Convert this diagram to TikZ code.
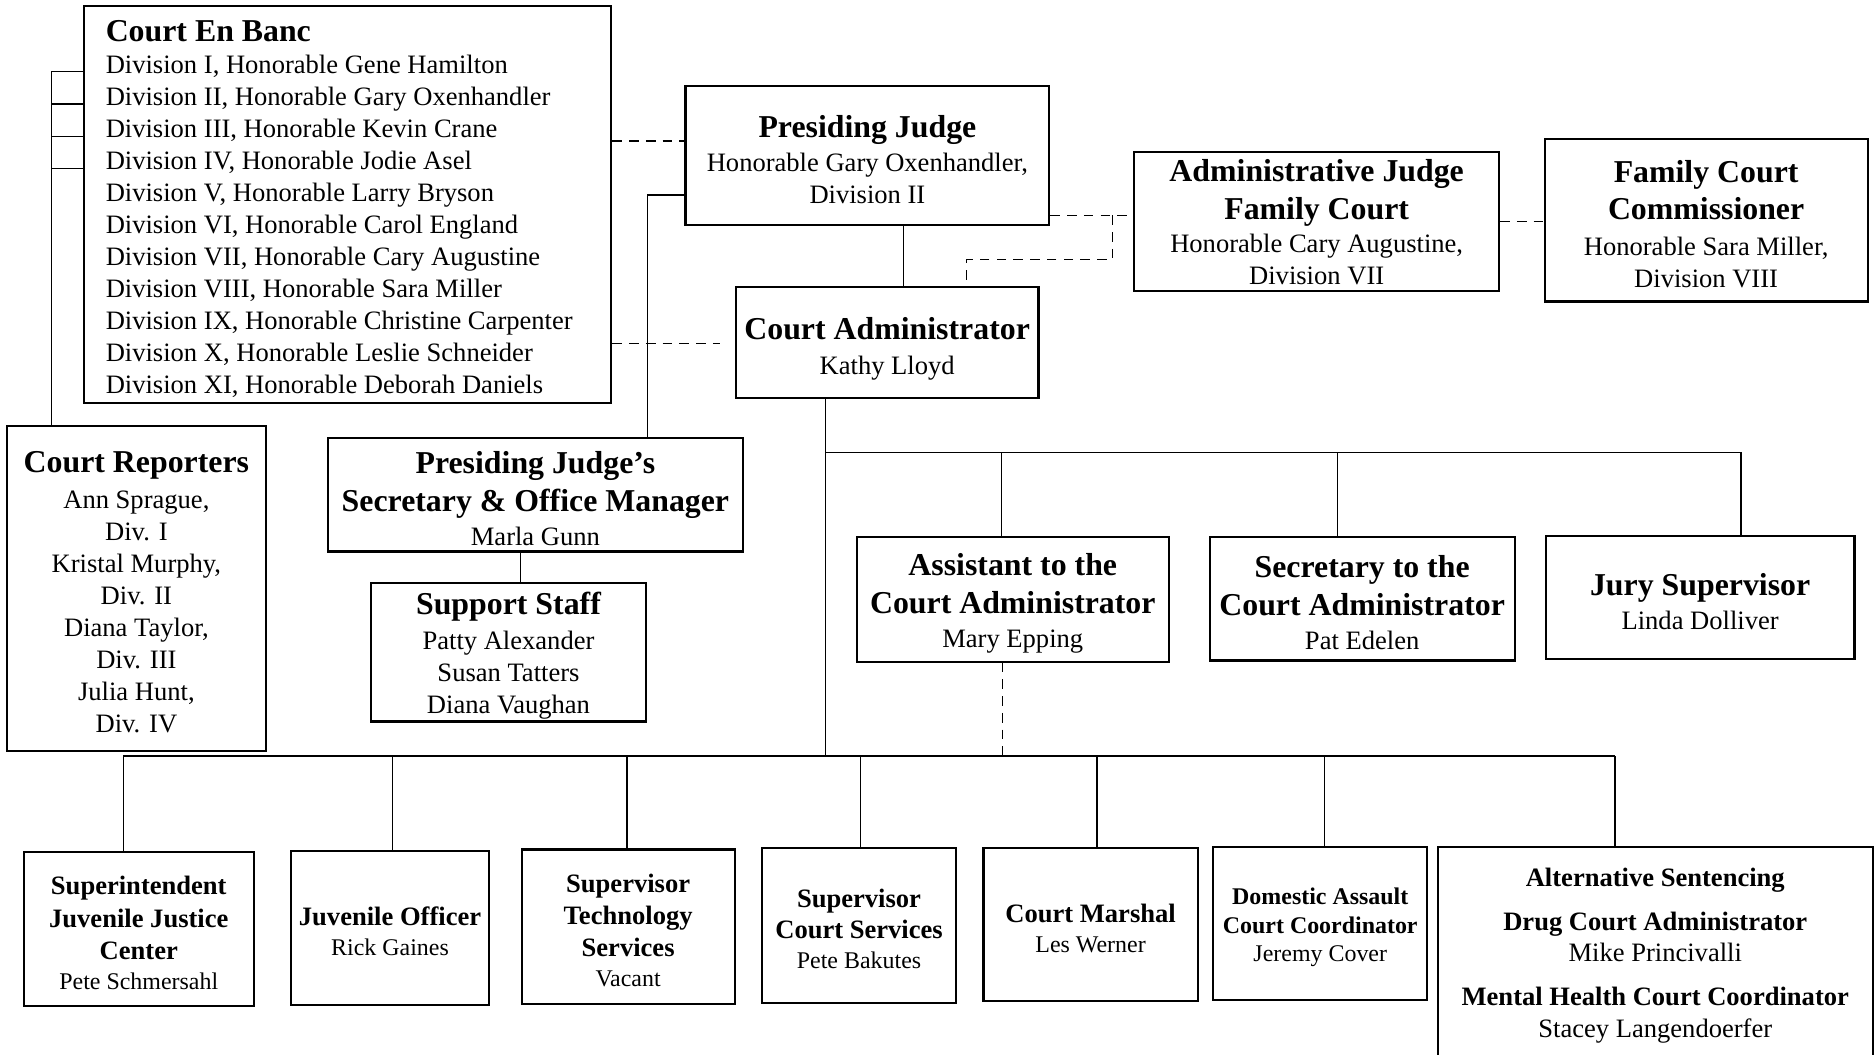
\documentclass[tikz,border=0pt]{standalone}
\usepackage{fontspec}
\setmainfont{Liberation Serif}
\newcommand\Ttl[1]{{\bfseries\fontsize{13.3}{16}\selectfont #1}}
\newcommand\Btl[1]{{\bfseries\fontsize{11.1}{13}\selectfont #1}}
% [text style]{name}{x1}{y1}{x2}{y2}{text}
\newcommand\obox[7][]{%
  \pgfmathsetmacro\obcx{(#3+#5)/2}%
  \pgfmathsetmacro\obcy{(#4+#6)/2}%
  \pgfmathsetmacro\obw{(#5-#3)/2}%
  \pgfmathsetmacro\obh{(#6-#4)/2}%
  \node[ob,minimum width=\obw pt,minimum height=\obh pt] (#2) at (\obcx,\obcy) {};
  \node[obtext,#1] (#2t) at ([yshift=-1.6pt]#2.center) {#7};}
\tikzset{
  ob/.style={draw, line width=0.9pt, inner sep=0pt},
  obtext/.style={inner sep=0pt, align=center, font=\fontsize{11.1}{13.4}\selectfont},
  bot/.style={font=\fontsize{10}{12.5}\selectfont},
  conn/.style={line width=0.6pt},
  dconn/.style={line width=0.6pt, dash pattern=on 4pt off 3pt},
}
\begin{document}
\begin{tikzpicture}[x=0.5pt,y=-0.5pt]
\useasboundingbox (0,0) rectangle (1568,881);
% Court En Banc
\node[ob,minimum width=220.5pt,minimum height=166pt] (ceb) at (290.5,171) {};
\node[anchor=north west, align=left, inner sep=0pt, font=\fontsize{11.1}{13.35}\selectfont] (cebtext) at (88,17)
 {\Ttl{Court En Banc}\\
  Division I, Honorable Gene Hamilton\\
  Division II, Honorable Gary Oxenhandler\\
  Division III, Honorable Kevin Crane\\
  Division IV, Honorable Jodie Asel\\
  Division V, Honorable Larry Bryson\\
  Division VI, Honorable Carol England\\
  Division VII, Honorable Cary Augustine\\
  Division VIII, Honorable Sara Miller\\
  Division IX, Honorable Christine Carpenter\\
  Division X, Honorable Leslie Schneider\\
  Division XI, Honorable Deborah Daniels};
% top boxes
\obox{pj}{573}{72}{877}{188}{\Ttl{Presiding Judge}\\[1pt]Honorable Gary Oxenhandler,\\Division II}
\obox[yshift=1.2pt]{aj}{948}{127}{1253}{243}{\Ttl{Administrative Judge}\\[2.6pt]\Ttl{Family Court}\\[0.5pt]Honorable Cary Augustine,\\Division VII}
\obox{fcc}{1291}{116}{1561}{252}{\Ttl{Family Court}\\[2pt]\Ttl{Commissioner}\\[1.5pt]Honorable Sara Miller,\\Division VIII}
\obox[yshift=-1pt]{ca}{615}{240}{868}{333}{\Ttl{Court Administrator}\\[1pt]Kathy Lloyd}
\obox{cr}{6}{356}{222}{628}{\Ttl{Court Reporters}\\[1.5pt]Ann Sprague,\\Div. I\\Kristal Murphy,\\Div. II\\Diana Taylor,\\Div. III\\Julia Hunt,\\Div. IV}
\obox{pjs}{274}{366}{621}{461}{\Ttl{Presiding Judge’s}\\[2.6pt]\Ttl{Secretary \& Office Manager}\\[1pt]Marla Gunn}
\obox{ss}{310}{487}{540}{603}{\Ttl{Support Staff}\\[1pt]Patty Alexander\\Susan Tatters\\Diana Vaughan}
\obox{aca}{716}{449}{977}{553}{\Ttl{Assistant to the}\\[2.6pt]\Ttl{Court Administrator}\\[1pt]Mary Epping}
\obox{sca}{1011}{449}{1266}{552}{\Ttl{Secretary to the}\\[2.6pt]\Ttl{Court Administrator}\\[1pt]Pat Edelen}
\obox{js}{1292}{448}{1550}{551}{\Ttl{Jury Supervisor}\\[0.6pt]Linda Dolliver}
% bottom row
\obox[bot]{sjj}{20}{712}{212}{841}{\Btl{Superintendent}\\[1pt]\Btl{Juvenile Justice}\\[1pt]\Btl{Center}\\Pete Schmersahl}
\obox[bot]{jo}{243}{711}{409}{840}{\Btl{Juvenile Officer}\\Rick Gaines}
\obox[bot]{st}{436}{710}{614}{839}{\Btl{Supervisor}\\[1pt]\Btl{Technology}\\[1pt]\Btl{Services}\\Vacant}
\obox[bot]{scs}{637}{709}{799}{838}{\Btl{Supervisor}\\[0.5pt]\Btl{Court Services}\\Pete Bakutes}
\obox[bot]{cm}{822}{709}{1001}{837}{\Btl{Court Marshal}\\Les Werner}
\obox[bot]{da}{1014}{708}{1193}{836}{{\bfseries Domestic Assault}\\[-0.5pt]{\bfseries Court Coordinator}\\[-0.5pt]Jeremy Cover}
% Alternative Sentencing (bottom edge runs off the page)
\node[inner sep=0pt, minimum width=181.5pt, minimum height=86.5pt] (as) at (1383.5,794.5) {};
\node[obtext, font=\fontsize{11.1}{12.5}\selectfont] (ast) at ([yshift=-2pt]as.center)
 {\Btl{Alternative Sentencing}\\[6pt]\Btl{Drug Court Administrator}\\[0.5pt]Mike Princivalli\\[6pt]\Btl{Mental Health Court Coordinator}\\[0.5pt]Stacey Langendoerfer};
\draw[line width=0.9pt] (as.south west) -- (as.north west) -- (as.north east) -- (as.south east);
% Court En Banc bracket
\draw[conn] (43,60) -- (43,0 |- cr.north);
\foreach \yy in {60,87,114,141}
  \draw[conn] (43,\yy) -- (ceb.west |- 0,\yy);
% dashed links
\draw[dconn] (ceb.east |- 0,118) -- (pj.west |- 0,118);
\draw[dconn] (ceb.east |- 0,287) -- ([xshift=-6pt]ca.west |- 0,287);
\draw[dconn] (pj.east |- 0,180) -- (aj.west |- 0,180);
\draw[dconn] (930,180) -- (930,217) -| (808,0 |- ca.north);
\draw[dconn] (aj.east |- 0,185) -- (fcc.west |- 0,185);
% presiding judge to secretary
\draw[conn] (pj.west |- 0,163) -| (541,0 |- pjs.north);
\draw[conn] (755,0 |- pj.south) -- (755,0 |- ca.north);
\draw[conn] (435,0 |- pjs.south) -- (435,0 |- ss.north);
% court administrator branches
\coordinate (busA) at (690,378);
\coordinate (busB) at (690,632);
\draw[conn] (690,0 |- ca.south) -- (busB);
\draw[conn] (busA) -- (1455,378);
\draw[conn] (837,378) -- (837,0 |- aca.north);
\draw[conn] (1118,378) -- (1118,0 |- sca.north);
\draw[conn] (1455,378) -- (1455,0 |- js.north);
\draw[dconn] (838,0 |- aca.south) -- (838,632);
% bottom bus
\draw[conn] (103,632) -- (1350,632);
\draw[conn] (103,632) -- (103,0 |- sjj.north);
\draw[conn] (328,632) -- (328,0 |- jo.north);
\draw[conn] (524,632) -- (524,0 |- st.north);
\draw[conn] (719,632) -- (719,0 |- scs.north);
\draw[conn] (917,632) -- (917,0 |- cm.north);
\draw[conn] (1107,632) -- (1107,0 |- da.north);
\draw[conn] (1350,632) -- (1350,0 |- as.north);
\end{tikzpicture}
\end{document}
